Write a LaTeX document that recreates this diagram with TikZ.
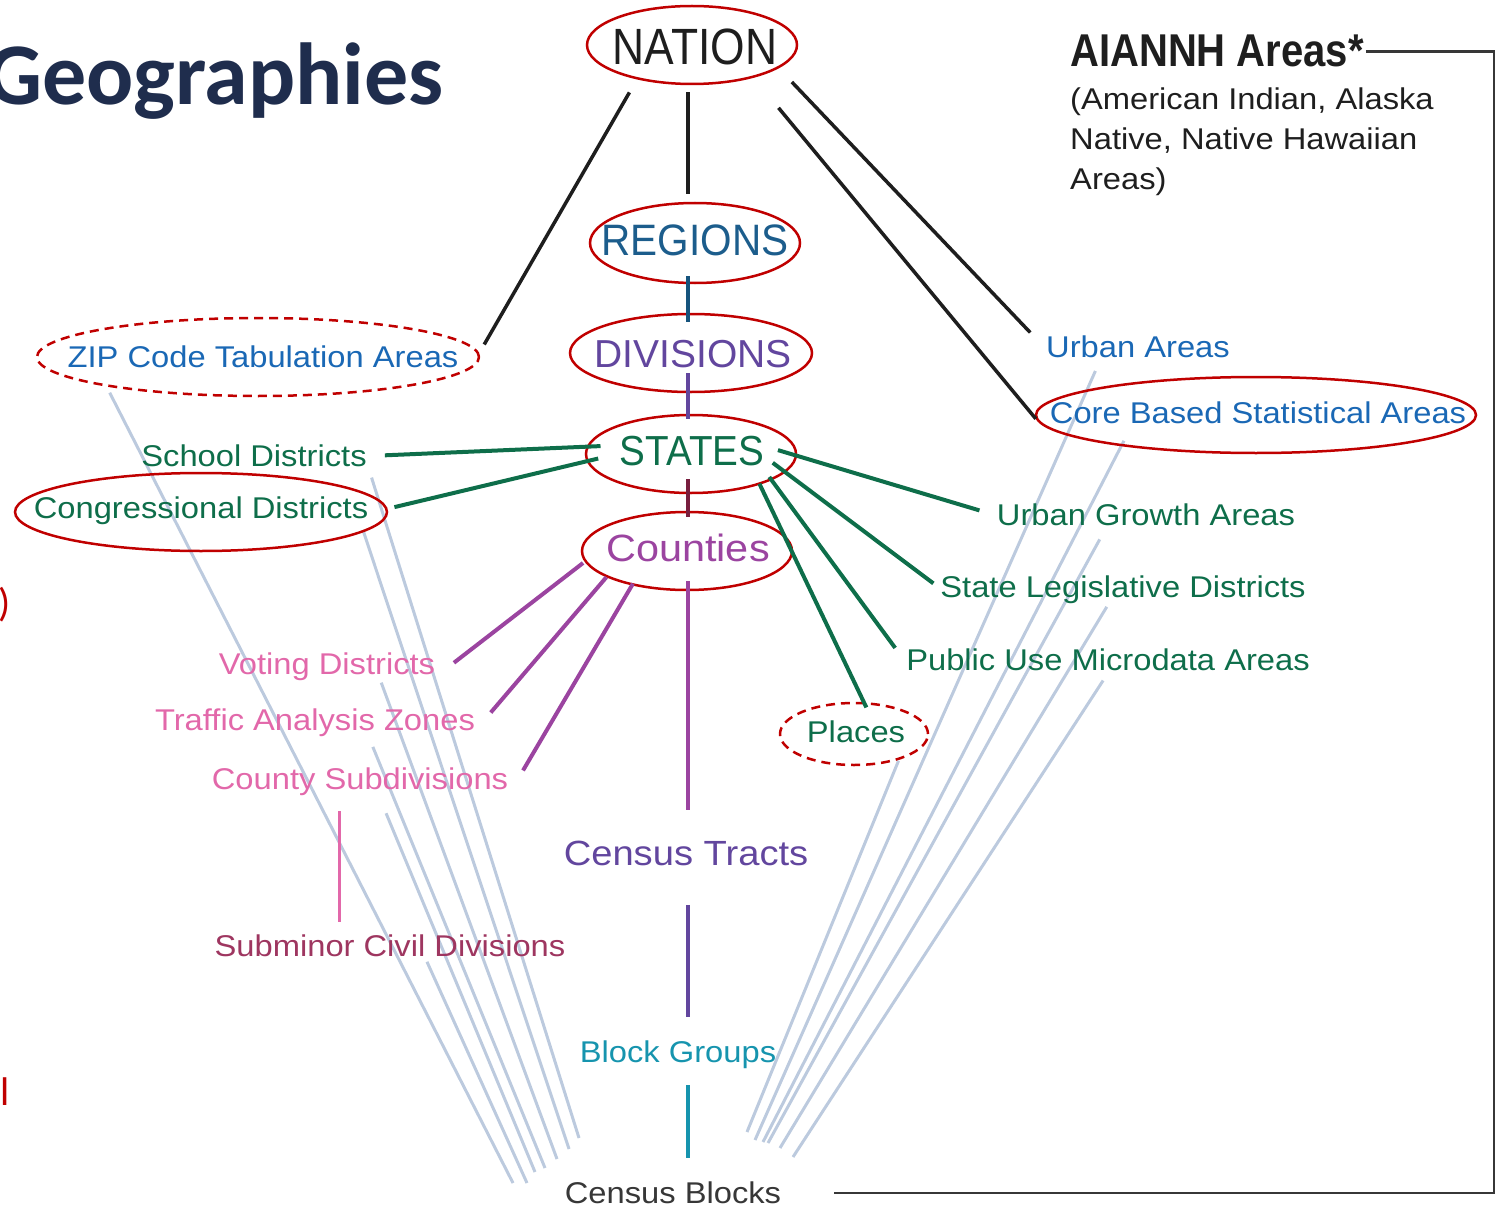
\documentclass[tikz,border=0pt]{standalone}
\usepackage{fontspec}
\setmainfont{Liberation Sans}
\newfontfamily\lblfont[FakeStretch=1.09]{Liberation Sans}
\newfontfamily\tallfont[FakeStretch=0.87]{Liberation Sans}
\newfontfamily\capfont[FakeStretch=0.92]{Liberation Sans}
\newfontfamily\slidefont{Carlito}
\usetikzlibrary{shapes.geometric,backgrounds}

\definecolor{ringred}{RGB}{192,0,0}
\definecolor{navy}{RGB}{31,45,77}
\definecolor{geoblue}{RGB}{26,104,181}
\definecolor{geogreen}{RGB}{14,110,74}
\definecolor{geopink}{RGB}{226,104,170}
\definecolor{geomaroon}{RGB}{158,54,96}
\definecolor{geoplum}{RGB}{155,68,160}
\definecolor{geopurple}{RGB}{98,70,158}
\definecolor{regblue}{RGB}{28,93,140}
\definecolor{regline}{RGB}{22,84,125}
\definecolor{stcrimson}{RGB}{120,30,62}
\definecolor{geoteal}{RGB}{22,148,174}
\definecolor{blockgray}{RGB}{55,55,55}
\definecolor{fanblue}{RGB}{188,202,222}
\definecolor{trunkblack}{RGB}{30,30,30}

\tikzset{
  ring/.style={ellipse, draw=ringred, line width=2.5pt, inner sep=0pt},
  dashring/.style={ring, dash pattern=on 9pt off 6pt},
  lbl/.style={inner sep=2pt, text height=21.6pt, text depth=0pt,
    font=\lblfont\fontsize{30}{36}\selectfont},
  bigcap/.style={anchor=base, inner sep=0pt},
}

\begin{document}
\begin{tikzpicture}[x=1pt,y=-1pt,
    trunk/.style={draw=trunkblack, line width=3.5pt},
    spoke/.style={line width=4pt},
    chain/.style={line width=4.5pt},
    fan/.style={draw=fanblue, line width=3pt}]

  \useasboundingbox (0,0) rectangle (1501,1206);

  \coordinate (stem) at (688,0);
  \coordinate (subcol) at (339,0);
  \coordinate (rim) at (1494,0);

  % slide title and cut-off slide text
  \node[anchor=base east, inner sep=0pt, text=navy,
    font=\slidefont\bfseries\fontsize{88}{88}\selectfont] (title) at (444,105) {Geographies};
  \node[anchor=west, inner sep=0pt, text=ringred,
    font=\slidefont\fontsize{40}{40}\selectfont] (paren) at (-2,605) {)};
  \node[anchor=base east, inner sep=0pt, text=ringred,
    font=\slidefont\fontsize{40}{40}\selectfont] (ell) at (10,1105) {l};

  % rings
  \node[ring, minimum width=210pt, minimum height=78pt] (nation) at (692,45) {};
  \node[ring, minimum width=210pt, minimum height=80pt] (regions) at (695,243) {};
  \node[ring, minimum width=242pt, minimum height=78pt] (divisions) at (691,353) {};
  \node[ring, minimum width=210pt, minimum height=78pt] (states) at (691,454) {};
  \node[ring, minimum width=210pt, minimum height=78pt] (counties) at (687,551) {};
  \node[dashring, minimum width=442pt, minimum height=78pt] (zcta) at (258,357) {};
  \node[ring, minimum width=372pt, minimum height=78pt] (cong) at (201,512) {};
  \node[ring, minimum width=440pt, minimum height=76pt] (cbsa) at (1256,415) {};
  \node[dashring, minimum width=148pt, minimum height=62pt] (places) at (854,734) {};

  % main hierarchy
  \node[bigcap, text=trunkblack, font=\tallfont\fontsize{51}{51}\selectfont] (nationtxt) at (695,65) {NATION};
  \node[bigcap, text=regblue, font=\capfont\fontsize{44}{44}\selectfont] (regionstxt) at (695,255) {REGIONS};
  \node[bigcap, text=geopurple, font=\fontsize{39}{39}\selectfont] (divisionstxt) at (693,367) {DIVISIONS};
  \node[bigcap, text=geogreen, font=\capfont\fontsize{42}{42}\selectfont] (statestxt) at (692,465) {STATES};
  \node[bigcap, text=geoplum, font=\lblfont\fontsize{38}{38}\selectfont] (countiestxt) at (688,561) {Counties};
  \node[lbl, text=geopurple, text height=25.2pt,
    font=\lblfont\fontsize{35}{40}\selectfont] (tracts) at (686,853) {Census Tracts};
  \node[lbl, text=geoteal] (bg) at (678,1052) {Block Groups};
  \node[lbl, text=blockgray] (cb) at (673,1193) {Census Blocks};

  % left side
  \node[lbl, text=geoblue] (zctatxt) at (263,357) {ZIP Code Tabulation Areas};
  \node[lbl, text=geogreen] (school) at (254,456) {School Districts};
  \node[lbl, text=geogreen] (congtxt) at (201,508) {Congressional Districts};
  \node[lbl, text=geopink] (voting) at (327,664) {Voting Districts};
  \node[lbl, text=geopink] (taz) at (315,720) {Traffic Analysis Zones};
  \node[lbl, text=geopink] (cousub) at (360,779) {County Subdivisions};
  \node[lbl, text=geomaroon] (subminor) at (390,946) {Subminor Civil Divisions};

  % right side
  \node[lbl, text=geoblue] (urban) at (1138,347) {Urban Areas};
  \node[lbl, text=geoblue] (cbsatxt) at (1258,413) {Core Based Statistical Areas};
  \node[lbl, text=geogreen] (uga) at (1146,515) {Urban Growth Areas};
  \node[lbl, text=geogreen] (sld) at (1123,587) {State Legislative Districts};
  \node[lbl, text=geogreen] (puma) at (1108,660) {Public Use Microdata Areas};
  \node[lbl, text=geogreen] (placestxt) at (856,732) {Places};

  \node[anchor=base west, inner sep=2pt, text=trunkblack,
    font=\tallfont\bfseries\fontsize{46}{46}\selectfont] (aiannh) at (1068,67) {AIANNH Areas*};
  \node[anchor=base west, inner sep=2pt, align=left, text=trunkblack,
    font=\lblfont\fontsize{30}{40}\selectfont] (aiannhnote) at (1068,190)
    {(American Indian, Alaska\\Native, Native Hawaiian\\Areas)};

  % from the nation
  \draw[trunk, shorten <=15pt, shorten >=10pt] (nation.212) -- (zcta.1);
  \draw[trunk, shorten <=7pt, shorten >=8pt] (nation.south -| stem) -- (regions.north -| stem);
  \draw[trunk, shorten <=19pt, shorten >=20pt] (nation.345) -- (urban.west);
  \draw[trunk, shorten <=39pt] (nation.332) -- (cbsa.181);

  % down the middle
  \draw[chain, regline, shorten <=-8pt, shorten >=-9pt] (regions.south -| stem) -- (divisions.north -| stem);
  \draw[chain, geopurple, shorten <=-20pt, shorten >=-5pt] (divisions.south -| stem) -- (states.north -| stem);
  \draw[chain, stcrimson, shorten <=-15pt, shorten >=-6pt] (states.south -| stem) -- (counties.north -| stem);
  \draw[chain, geoplum, shorten <=-10pt, shorten >=28pt] (counties.south -| stem) -- (tracts.north -| stem);
  \draw[chain, geopurple, shorten <=37pt, shorten >=22pt] (tracts.south -| stem) -- (bg.north -| stem);
  \draw[chain, geoteal, shorten <=20pt, shorten >=22pt] (bg.south -| stem) -- (cb.north -| stem);

  % states
  \draw[spoke, geogreen, shorten <=-14pt, shorten >=16pt] (states.176) -- (school.east);
  \draw[spoke, geogreen, shorten <=-12pt, shorten >=7pt] (states.184) -- (cong.1);
  \draw[spoke, geogreen, shorten <=-20pt, shorten >=16pt] (states.359) -- (uga.west);
  \draw[spoke, geogreen, shorten <=-16pt, shorten >=6pt] (states.349) -- (sld.west);
  \draw[spoke, geogreen, shorten <=-4pt, shorten >=15pt] (states.342) -- (puma.west);
  \draw[spoke, geogreen, shorten <=-1pt, shorten >=-6pt] (states.336) -- (places.73);

  % counties
  \draw[spoke, geoplum, shorten <=2pt, shorten >=21pt] (counties.186) -- (voting.354);
  \draw[spoke, geoplum, shorten >=21pt] (counties.198) -- (taz.357);
  \draw[spoke, geoplum, shorten <=-2pt, shorten >=25pt] (counties.212) -- (cousub.south east);
  \draw[spoke, geopink, line width=3pt, shorten <=19pt, shorten >=11pt] (cousub.south -| subcol) -- (subminor.north -| subcol);

  % everything reaches the blocks
  \foreach \n/\x/\y in {1/513/1183, 2/527/1183, 3/535/1172, 4/545/1168, 5/557/1159, 6/569/1149, 7/579/1138}
    \coordinate (fl\n) at (\x,\y);
  \foreach \n/\x/\y in {1/747/1132, 2/755/1140, 3/763/1142, 4/768/1143, 5/780/1148, 6/793/1157}
    \coordinate (fr\n) at (\x,\y);

  \begin{pgfonlayer}{background}
    \foreach \src/\cut/\n in {zcta.191/7pt/1, subminor.340/3pt/2, cousub.323/23pt/3, taz.346/15pt/4,
        voting.346/6pt/5, cong.353/0pt/6, school.south east/9pt/7}
      \draw[fan, shorten <=\cut] (\src) -- (fl\n);
    \foreach \src/\cut/\n in {places.330/1pt/1, urban.199/12pt/2, cbsa.193/-6pt/3, uga.198/13pt/4,
        sld.227/8pt/5, puma.south/9pt/6}
      \draw[fan, shorten <=\cut] (\src) -- (fr\n);
  \end{pgfonlayer}

  \draw[blockgray, line width=2.5pt, shorten >=51pt] (aiannh.east) -| (rim |- cb.east) -- (cb.east);
\end{tikzpicture}
\end{document}
